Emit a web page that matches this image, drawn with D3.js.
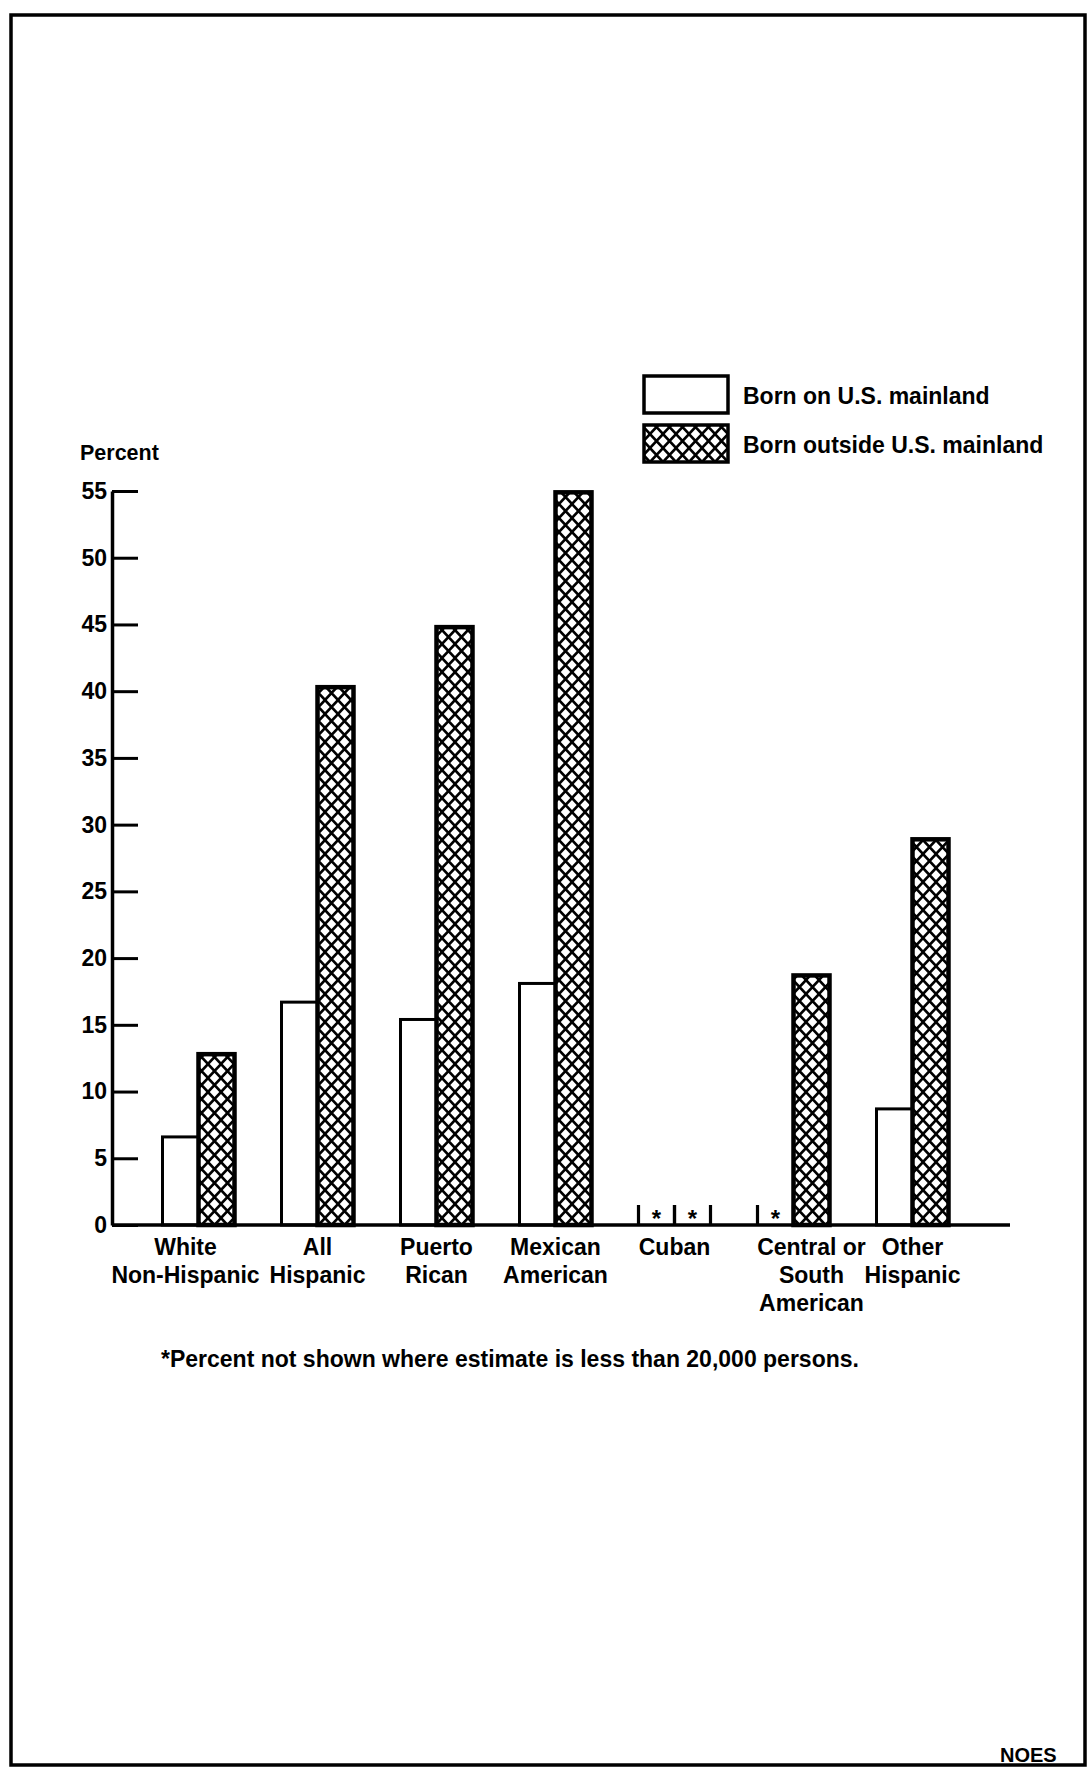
<!DOCTYPE html>
<html>
<head>
<meta charset="utf-8">
<script src="https://cdn.jsdelivr.net/npm/d3@7"></script>
<style>
  html, body { margin: 0; padding: 0; background: #fff; }
  svg { display: block; }
  text { font-family: "Liberation Sans", Arial, Helvetica, sans-serif; font-weight: bold; fill: #000; }
</style>
</head>
<body>
<div id="chart"></div>
<script>
// ---- Data ----
const categories = ["White Non-Hispanic", "All Hispanic", "Puerto Rican", "Mexican American", "Cuban", "Central or South American", "Other Hispanic"];
const categoryLabelLines = [["White", "Non-Hispanic"], ["All", "Hispanic"], ["Puerto", "Rican"], ["Mexican", "American"], ["Cuban"], ["Central or", "South", "American"], ["Other", "Hispanic"]];
const seriesNames = ["Born on U.S. mainland", "Born outside U.S. mainland"];
const bornOnMainland = [6.6, 16.7, 15.4, 18.1, null, null, 8.7];
const bornOutsideMainland = [12.8, 40.3, 44.8, 54.9, null, 18.7, 28.9];
const yTickValues = [0, 5, 10, 15, 20, 25, 30, 35, 40, 45, 50, 55];
const yAxisTitle = "Percent";
const footnote = "*Percent not shown where estimate is less than 20,000 persons.";
const cornerText = "NOES";

// ---- Drawing ----
const W = 1088, H = 1769;
const svg = d3.select("#chart").append("svg").attr("width", W).attr("height", H);
svg.append("rect").attr("width", W).attr("height", H).attr("fill", "#fff");

const defs = svg.append("defs");
const PW = 13, PH = 14;
const pat = defs.append("pattern").attr("id", "hatch").attr("patternUnits", "userSpaceOnUse")
  .attr("width", PW).attr("height", PH);
pat.append("rect").attr("width", PW).attr("height", PH).attr("fill", "#fff");
pat.append("path").attr("d", `M-1,${-PH/PW} L${PW+1},${PH+PH/PW} M${PW+1},${-PH/PW} L-1,${PH+PH/PW}`)
  .attr("stroke", "#000").attr("stroke-width", 2.6).attr("fill", "none");

const seriesValues = [bornOnMainland, bornOutsideMainland];
const seriesFill = ["#fff", "url(#hatch)"];
const seriesStroke = [3, 4.5];

const x0 = d3.scaleBand().domain(categories).range([139, 972]);
const x1 = d3.scaleBand().domain(seriesNames).range([0, 72]);
const off = x0.bandwidth() / 2 - 36;
const y = d3.scaleLinear().domain([0, 55]).range([1225, 491]);

// frame
svg.append("rect").attr("x", 11).attr("y", 15).attr("width", 1074).attr("height", 1750)
  .attr("fill", "none").attr("stroke", "#000").attr("stroke-width", 3.5);

// bars
const g = svg.append("g");
categories.forEach((c, i) => {
  seriesNames.forEach((s, k) => {
    const v = seriesValues[k][i];
    const bx = x0(c) + off + x1(s);
    const bw = x1.bandwidth();
    if (v != null) {
      g.append("rect").attr("x", bx).attr("y", y(v)).attr("width", bw).attr("height", y(0) - y(v))
        .attr("fill", seriesFill[k]).attr("stroke", "#000").attr("stroke-width", seriesStroke[k]);
    } else {
      [bx, bx + bw].forEach(px => {
        g.append("line").attr("x1", px).attr("x2", px).attr("y1", y(0)).attr("y2", y(0) - 20)
          .attr("stroke", "#000").attr("stroke-width", 3.2);
      });
      g.append("text").attr("x", bx + bw / 2).attr("y", y(0) + 2).attr("text-anchor", "middle")
        .attr("font-size", 24).text("*");
    }
  });
});

// x baseline
svg.append("line").attr("x1", 112).attr("x2", 1010).attr("y1", y(0)).attr("y2", y(0))
  .attr("stroke", "#000").attr("stroke-width", 3.5);

// y axis
const yAxis = d3.axisLeft(y).tickValues(yTickValues).tickSize(-26).tickSizeOuter(0).tickPadding(5);
const ya = svg.append("g").attr("transform", "translate(112,0)").call(yAxis);
ya.select(".domain").attr("stroke", "#000").attr("stroke-width", 3.5);
ya.selectAll(".tick line").attr("stroke", "#000").attr("stroke-width", 3);
ya.selectAll(".tick text").attr("font-size", 23).attr("font-family", null).style("font-weight", "bold").attr("fill", "#000");

svg.append("text").attr("x", 80).attr("y", 460).attr("font-size", 21.5).text(yAxisTitle);

// category labels (small nudges as in the original typesetting)
const labelNudge = { 0: -13, 5: 18 };
categories.forEach((c, i) => {
  const cx = x0(c) + x0.bandwidth() / 2 + (labelNudge[i] || 0);
  categoryLabelLines[i].forEach((ln, j) => {
    svg.append("text").attr("x", cx).attr("y", 1255 + j * 28).attr("text-anchor", "middle")
      .attr("font-size", 23).text(ln);
  });
});

// legend
const leg = svg.append("g");
seriesNames.forEach((s, k) => {
  const ly = k === 0 ? 376 : 425;
  leg.append("rect").attr("x", 644).attr("y", ly).attr("width", 84).attr("height", 37)
    .attr("fill", seriesFill[k]).attr("stroke", "#000").attr("stroke-width", 3.5);
  leg.append("text").attr("x", 743).attr("y", ly + 28).attr("font-size", 23).text(s);
});

// footnote
svg.append("text").attr("x", 161).attr("y", 1367).attr("font-size", 23).text(footnote);

// scan text at bottom right corner
svg.append("text").attr("x", 1000).attr("y", 1762).attr("font-size", 20).text(cornerText);
</script>
</body>
</html>
